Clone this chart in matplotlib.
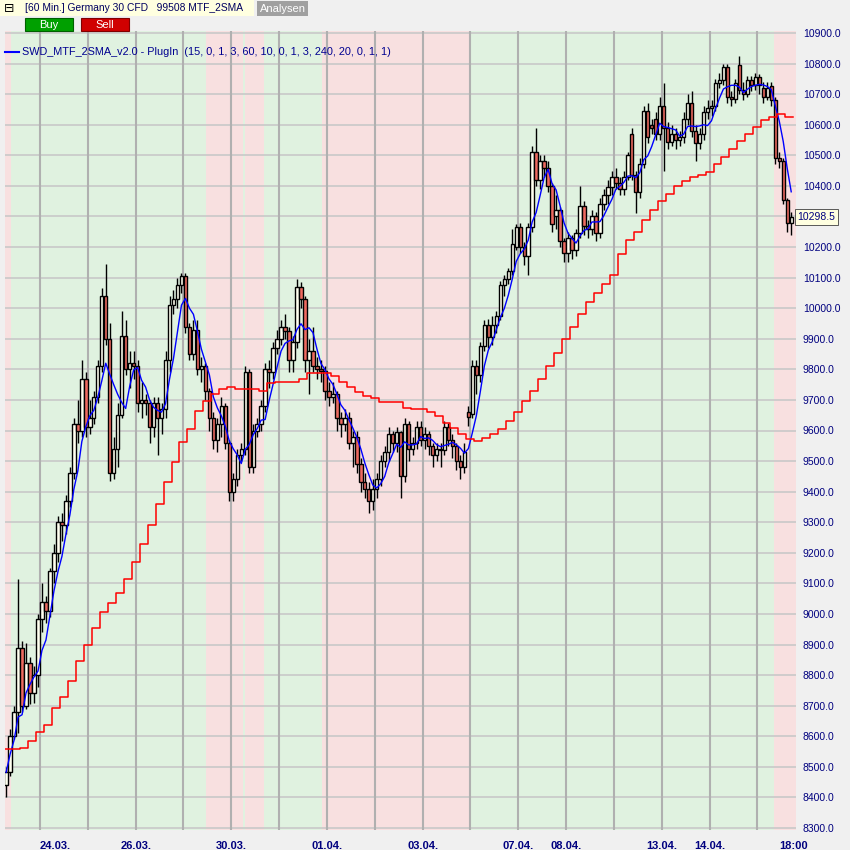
import matplotlib.pyplot as plt
import numpy as np
import pandas as pd
from matplotlib.patches import Rectangle

plt.rcParams['font.family'] = ['Liberation Sans', 'DejaVu Sans']

# 60 min candles (O, H, L, C)
opens = [8440, 8482, 8600, 8680, 8890, 8700, 8840, 8740, 8800, 8985,
         9040, 9010, 9140, 9200, 9300, 9290, 9370, 9460, 9620, 9600,
         9770, 9610, 9640, 9710, 9810, 10040, 9900, 9460, 9540, 9650,
         9910, 9800, 9820, 9810, 9690, 9700, 9690, 9610, 9690, 9640,
         9670, 9830, 10010, 10030, 10075, 10105, 9940, 9850, 9930, 9800,
         9810, 9730, 9640, 9570, 9620, 9680, 9560, 9400, 9440, 9520,
         9540, 9790, 9480, 9600, 9620, 9680, 9800, 9790, 9870, 9900,
         9940, 9925, 9830, 9890, 10070, 10030, 9830, 9860, 9810, 9800,
         9795, 9730, 9710, 9720, 9640, 9620, 9640, 9560, 9580, 9490,
         9430, 9410, 9370, 9410, 9440, 9500, 9530, 9590, 9560, 9595,
         9450, 9620, 9540, 9560, 9610, 9570, 9590, 9550, 9520, 9540,
         9535, 9610, 9570, 9550, 9500, 9480, 9660, 9655, 9810, 9780,
         9875, 9945, 9905, 9945, 9975, 10075, 10095, 10120, 10200, 10265,
         10200, 10170, 10265, 10510, 10420, 10480, 10460, 10400, 10300, 10320,
         10220, 10180, 10230, 10190, 10245, 10335, 10270, 10260, 10300, 10245,
         10340, 10370, 10395, 10430, 10410, 10390, 10430, 10570, 10435, 10380,
         10470, 10645, 10600, 10620, 10570, 10660, 10590, 10545, 10570, 10550,
         10560, 10620, 10670, 10580, 10540, 10570, 10640, 10655, 10660, 10735,
         10745, 10790, 10690, 10685, 10795, 10715, 10700, 10745, 10730, 10755,
         10720, 10690, 10725, 10680, 10490, 10480, 10355, 10280]
highs = [8500, 8625, 8700, 9115, 8910, 8905, 8860, 8830, 9000, 9100,
         9060, 9150, 9230, 9320, 9330, 9390, 9480, 9640, 9700, 9830,
         9790, 9700, 9730, 9830, 10065, 10145, 9950, 9580, 9690, 9990,
         9960, 9860, 9860, 9830, 9760, 9720, 9700, 9710, 9710, 9690,
         9860, 10040, 10060, 10100, 10115, 10115, 9950, 9960, 9960, 9840,
         9820, 9740, 9660, 9640, 9710, 9690, 9570, 9460, 9540, 9560,
         9810, 9800, 9620, 9640, 9700, 9820, 9830, 9890, 9930, 9960,
         9980, 9940, 9910, 10095, 10085, 10040, 9900, 9940, 9840, 9830,
         9810, 9760, 9760, 9730, 9660, 9670, 9660, 9600, 9600, 9510,
         9460, 9430, 9440, 9460, 9520, 9550, 9610, 9600, 9610, 9600,
         9640, 9630, 9580, 9630, 9630, 9610, 9600, 9560, 9560, 9560,
         9630, 9625, 9590, 9560, 9520, 9560, 9680, 9830, 9830, 9890,
         9960, 9965, 9975, 9990, 10090, 10110, 10130, 10260, 10275, 10280,
         10215, 10280, 10530, 10590, 10500, 10500, 10480, 10410, 10370, 10330,
         10230, 10250, 10240, 10260, 10400, 10350, 10290, 10320, 10315, 10360,
         10390, 10420, 10450, 10460, 10430, 10450, 10510, 10590, 10450, 10490,
         10660, 10670, 10620, 10640, 10690, 10735, 10610, 10600, 10590, 10580,
         10640, 10700, 10710, 10600, 10590, 10660, 10680, 10680, 10750, 10770,
         10800, 10800, 10710, 10750, 10825, 10740, 10760, 10760, 10770, 10765,
         10740, 10740, 10740, 10690, 10510, 10490, 10360, 10315]
lows = [8400, 8470, 8590, 8610, 8680, 8690, 8705, 8710, 8760, 8940,
        8970, 8990, 9100, 9170, 9240, 9260, 9350, 9440, 9560, 9580,
        9580, 9590, 9620, 9690, 9790, 9880, 9435, 9440, 9480, 9640,
        9780, 9740, 9770, 9660, 9640, 9650, 9560, 9580, 9520, 9590,
        9640, 9790, 9980, 10000, 10050, 9920, 9830, 9830, 9780, 9760,
        9700, 9600, 9540, 9530, 9580, 9540, 9370, 9370, 9420, 9500,
        9520, 9460, 9460, 9580, 9600, 9660, 9740, 9770, 9850, 9880,
        9900, 9790, 9790, 9870, 10000, 9790, 9720, 9790, 9770, 9760,
        9700, 9680, 9690, 9600, 9580, 9600, 9540, 9480, 9460, 9400,
        9380, 9330, 9340, 9380, 9420, 9480, 9500, 9530, 9530, 9380,
        9430, 9500, 9520, 9540, 9550, 9540, 9520, 9480, 9500, 9480,
        9520, 9550, 9510, 9470, 9440, 9460, 9615, 9640, 9720, 9760,
        9860, 9870, 9880, 9920, 9960, 10040, 10080, 10110, 10190, 10180,
        10140, 10110, 10250, 10400, 10390, 10430, 10380, 10250, 10260, 10200,
        10150, 10150, 10160, 10170, 10230, 10240, 10230, 10240, 10220, 10230,
        10320, 10340, 10370, 10390, 10370, 10370, 10420, 10420, 10310, 10360,
        10460, 10540, 10570, 10550, 10550, 10450, 10520, 10530, 10520, 10530,
        10540, 10600, 10560, 10480, 10520, 10550, 10620, 10630, 10645, 10720,
        10730, 10670, 10660, 10670, 10700, 10680, 10690, 10710, 10715, 10700,
        10670, 10680, 10660, 10470, 10460, 10340, 10250, 10240]
closes = [8482, 8600, 8680, 8890, 8700, 8840, 8740, 8800, 8985, 9040,
          9010, 9140, 9200, 9300, 9290, 9370, 9460, 9620, 9600, 9770,
          9610, 9640, 9710, 9810, 10040, 9900, 9460, 9540, 9650, 9910,
          9800, 9820, 9810, 9690, 9700, 9690, 9610, 9690, 9640, 9670,
          9830, 10010, 10030, 10075, 10105, 9940, 9850, 9930, 9800, 9810,
          9730, 9640, 9570, 9620, 9680, 9560, 9400, 9440, 9520, 9540,
          9790, 9480, 9600, 9620, 9680, 9800, 9790, 9870, 9900, 9940,
          9925, 9830, 9890, 10070, 10030, 9830, 9860, 9810, 9800, 9795,
          9730, 9710, 9720, 9640, 9620, 9640, 9560, 9580, 9490, 9430,
          9410, 9370, 9410, 9440, 9500, 9530, 9590, 9560, 9595, 9450,
          9620, 9540, 9560, 9610, 9570, 9590, 9550, 9520, 9540, 9535,
          9610, 9570, 9550, 9500, 9480, 9530, 9645, 9810, 9780, 9875,
          9945, 9905, 9945, 9975, 10075, 10095, 10120, 10210, 10265, 10200,
          10170, 10265, 10510, 10420, 10480, 10460, 10400, 10275, 10320, 10220,
          10180, 10230, 10190, 10245, 10335, 10270, 10260, 10300, 10245, 10340,
          10370, 10395, 10430, 10410, 10390, 10430, 10500, 10435, 10380, 10470,
          10645, 10560, 10590, 10570, 10660, 10590, 10545, 10570, 10550, 10560,
          10620, 10670, 10580, 10540, 10570, 10640, 10655, 10660, 10735, 10745,
          10790, 10690, 10685, 10735, 10715, 10700, 10745, 10730, 10755, 10730,
          10690, 10720, 10680, 10490, 10480, 10355, 10280, 10298.5]

# 240 min SMA, one value per 4h block (2 bars here)
sma_240 = [8558, 8558, 8563, 8585, 8615, 8638, 8692, 8727, 8782, 8846,
           8897, 8953, 9005, 9036, 9070, 9115, 9169, 9230, 9290, 9360,
           9432, 9497, 9562, 9605, 9665, 9698, 9720, 9736, 9741, 9736,
           9736, 9736, 9730, 9755, 9758, 9758, 9758, 9770, 9788, 9788,
           9788, 9777, 9758, 9741, 9725, 9714, 9706, 9692, 9692, 9692,
           9674, 9671, 9671, 9660, 9647, 9625, 9609, 9587, 9571, 9566,
           9576, 9587, 9606, 9630, 9660, 9696, 9730, 9770, 9810, 9855,
           9900, 9940, 9980, 10020, 10050, 10080, 10110, 10178, 10224, 10249,
           10289, 10322, 10350, 10374, 10398, 10415, 10430, 10437, 10445, 10470,
           10496, 10521, 10546, 10570, 10593, 10615, 10624, 10635, 10626]

day_starts = [8.5, 20.5, 32.5, 44.5, 56.5, 68.5, 80.5, 92.5, 104.5, 116.5,
              128.5, 140.5, 152.5, 164.5, 176.5, 188.5]
sell_zones = [(-1, 1.2), (50.2, 59.4), (59.9, 64.7), (79.3, 116.3), (192.7, 199)]
date_pos = [12.4, 32.5, 56.5, 80.5, 104.5, 128.5, 140.5, 164.5, 176.5, 197.5]
date_labels = ["24.03.", "26.03.", "30.03.", "01.04.", "03.04.", "07.04.",
               "08.04.", "13.04.", "14.04.", "18:00"]
y_ticks = np.arange(8300, 10901, 100)

navy = "#00007f"
df = pd.DataFrame({"open": opens, "high": highs, "low": lows, "close": closes})
x = np.arange(len(df))
sma_fast = df["close"].rolling(5, min_periods=1).mean()

fig = plt.figure(figsize=(8.5, 8.5), dpi=100, facecolor="#f0f0f0")
ax = fig.add_axes([5 / 850, 20 / 850, 791 / 850, 799 / 850])
ax.set_facecolor("#e0f2e0")

for a, b in sell_zones:
    ax.axvspan(a, b, color="#f8e0e0", lw=0, zorder=0)

for yv in y_ticks:
    ax.axhline(yv, color="#c8c8c8", lw=1.2, zorder=1)
for d in day_starts:
    ax.axvline(d, color="#b0b0b0", lw=1.5, zorder=1)

# candles
up = df["close"] >= df["open"]
body_lo = np.minimum(df["open"], df["close"])
body_h = np.maximum(np.abs(df["close"] - df["open"]), 3)
ax.vlines(x, df["low"], df["high"], color="black", lw=1, zorder=2)
ax.bar(x, body_h, bottom=body_lo, width=0.85,
       color=np.where(up, "#fffff0", "#ee6a60"),
       edgecolor="black", linewidth=1, zorder=3)

# indicator lines
ax.plot(x, sma_fast, color="#0000ff", lw=1, zorder=4)
red_x = np.append(np.arange(len(sma_240)) * 2 - 0.5, len(df) - 0.5)
ax.step(red_x, sma_240 + [sma_240[-1]], where="post", color="#ff0000", lw=1.1, zorder=4)

ax.set_xlim(-0.28, 198.2)
ax.set_ylim(8293.5, 10906.5)
for s in ax.spines.values():
    s.set_visible(False)

# the last-price box hides the 10300 label
ax.yaxis.tick_right()
ax.set_yticks(y_ticks)
ax.set_yticklabels(["" if v == 10300 else f"{v:.1f}" for v in y_ticks])
ax.tick_params(axis="y", length=0, pad=5, labelsize=7.5, labelcolor=navy)
ax.set_xticks(date_pos)
ax.set_xticklabels(date_labels, fontweight="bold")
ax.tick_params(axis="x", length=0, pad=8, labelsize=8, labelcolor=navy)

# last price box
ax.text(1.002, closes[-1], f"{closes[-1]:.1f}", transform=ax.get_yaxis_transform(),
        ha="left", va="center", fontsize=7.5, color=navy,
        bbox=dict(boxstyle="square,pad=0.25", facecolor="#ffffe0", edgecolor="#404040", lw=0.6))


def px(xp, yp):
    return xp / 850, 1 - yp / 850


# header
fig.patches.append(Rectangle(px(0, 16), 254 / 850, 16 / 850, transform=fig.transFigure,
                             facecolor="#ffffe0", edgecolor="none"))
fig.text(*px(9, 8), "⊟", ha="center", va="center", fontsize=9, color="black",
         family=["DejaVu Sans"])
fig.text(*px(25, 8), "[60 Min.] Germany 30 CFD   99508 MTF_2SMA", ha="left", va="center",
         fontsize=7.4, color="#000060")
fig.patches.append(Rectangle(px(257, 16), 51 / 850, 15 / 850, transform=fig.transFigure,
                             facecolor="#a0a0a0", edgecolor="none"))
fig.text(*px(282.5, 8.5), "Analysen", ha="center", va="center", fontsize=8, color="white")

for x0, col, edge, label in [(25, "#00a000", "#006000", "Buy"), (81, "#d00000", "#800000", "Sell")]:
    fig.patches.append(Rectangle(px(x0, 31), 48 / 850, 13 / 850, transform=fig.transFigure,
                                 facecolor=col, edgecolor=edge, lw=0.8))
    fig.text(*px(x0 + 24, 24.5), label, ha="center", va="center", fontsize=8, color="white")

# legend
ax.plot([5 / 850, 19 / 850], [1 - 52 / 850] * 2, transform=fig.transFigure,
        color="#0000ff", lw=1.5, clip_on=False)
fig.text(*px(22, 52), "SWD_MTF_2SMA_v2.0 - PlugIn  (15, 0, 1, 3, 60, 10, 0, 1, 3, 240, 20, 0, 1, 1)",
         ha="left", va="center", fontsize=7.8, color="#000090")

fig.savefig("out.png", dpi=100, facecolor=fig.get_facecolor())
